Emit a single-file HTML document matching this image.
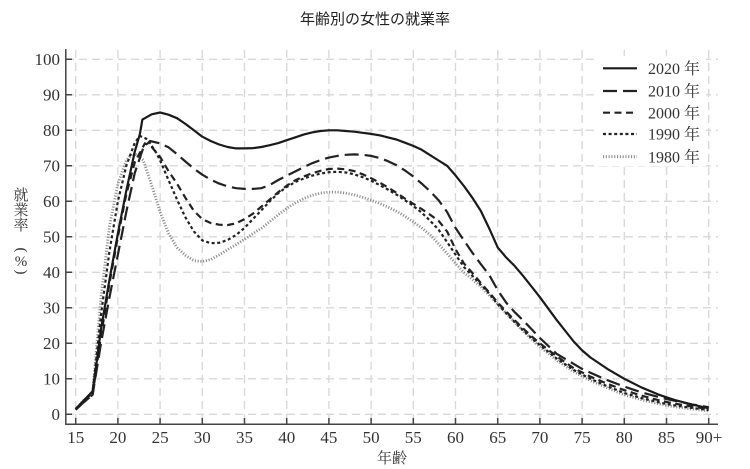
<!DOCTYPE html>
<html><head><meta charset="utf-8"><style>
html,body{margin:0;padding:0;background:#fff;}
svg{display:block;}
</style></head><body>
<svg width="750" height="469" viewBox="0 0 750 469" xmlns="http://www.w3.org/2000/svg">
<rect width="750" height="469" fill="#fff"/>
<text x="375" y="24" text-anchor="middle" font-family="'Liberation Sans','Noto Sans CJK JP',sans-serif" font-size="15" fill="#222">年齢別の女性の就業率</text>
<g stroke="#d8d8d8" stroke-width="1.4" stroke-dasharray="8 5" fill="none">
<path d="M66 59.3H718M66 94.8H718M66 130.3H718M66 165.8H718M66 201.3H718M66 236.8H718M66 272.3H718M66 307.8H718M66 343.3H718M66 378.8H718M66 414.3H718"/>
<path d="M75.7 50V424M117.9 50V424M160.1 50V424M202.3 50V424M244.5 50V424M286.7 50V424M328.9 50V424M371.1 50V424M413.3 50V424M455.5 50V424M497.7 50V424M539.9 50V424M582.1 50V424M624.3 50V424M666.5 50V424M708.7 50V424"/>
</g>
<g stroke="#444" stroke-width="1.5" fill="none">
<path d="M65.8 49V424.3H718"/>
<path d="M66 59.3h6M66 94.8h6M66 130.3h6M66 165.8h6M66 201.3h6M66 236.8h6M66 272.3h6M66 307.8h6M66 343.3h6M66 378.8h6M66 414.3h6"/>
<path d="M75.7 424v-6M117.9 424v-6M160.1 424v-6M202.3 424v-6M244.5 424v-6M286.7 424v-6M328.9 424v-6M371.1 424v-6M413.3 424v-6M455.5 424v-6M497.7 424v-6M539.9 424v-6M582.1 424v-6M624.3 424v-6M666.5 424v-6M708.7 424v-6"/>
</g>
<g font-family="'Liberation Serif',serif" font-size="17" fill="#333" text-anchor="end">
<text x="60" y="65">100</text><text x="60" y="100.5">90</text><text x="60" y="136">80</text><text x="60" y="171.5">70</text><text x="60" y="207">60</text><text x="60" y="242.5">50</text><text x="60" y="278">40</text><text x="60" y="313.5">30</text><text x="60" y="349">20</text><text x="60" y="384.5">10</text><text x="60" y="420">0</text>
</g>
<g font-family="'Liberation Serif',serif" font-size="17" fill="#333" text-anchor="middle">
<text x="75.7" y="443">15</text><text x="117.9" y="443">20</text><text x="160.1" y="443">25</text><text x="202.3" y="443">30</text><text x="244.5" y="443">35</text><text x="286.7" y="443">40</text><text x="328.9" y="443">45</text><text x="371.1" y="443">50</text><text x="413.3" y="443">55</text><text x="455.5" y="443">60</text><text x="497.7" y="443">65</text><text x="539.9" y="443">70</text><text x="582.1" y="443">75</text><text x="624.3" y="443">80</text><text x="666.5" y="443">85</text><text x="709" y="443">90+</text>
</g>
<text x="392" y="463" text-anchor="middle" font-family="'Liberation Serif','Noto Serif CJK SC',serif" font-size="15" fill="#333">年齢</text>
<g font-family="'Liberation Serif','Noto Serif CJK SC',serif" font-size="15" fill="#333" text-anchor="middle">
<text x="21" y="200">就</text><text x="21" y="215">業</text><text x="21" y="230">率</text>
<text x="21" y="266" font-family="'Liberation Serif',serif" font-size="15">%</text>
<text transform="translate(21 250) rotate(90)" x="0" y="4" font-size="15">(</text>
<text transform="translate(21 272) rotate(90)" x="0" y="4" font-size="15">)</text>
</g>
<g fill="none" stroke-linejoin="round">
<polyline stroke="#8a8a8a" stroke-width="2.8" stroke-dasharray="1.1 1.7" points="75.7,409.0 84.1,400.1 92.6,393.0 101.0,297.1 109.5,226.2 117.9,183.6 126.3,160.5 132.6,153.4 137.3,155.2 143.2,160.1 151.7,185.3 160.1,212.0 168.5,233.3 177.0,247.5 185.4,255.3 193.9,260.6 202.3,261.6 210.7,259.5 219.2,254.9 227.6,249.6 236.1,244.6 244.5,239.3 252.9,233.6 261.4,228.3 269.8,221.6 278.3,214.8 286.7,208.4 295.1,203.1 303.6,198.5 312.0,195.3 320.5,193.1 328.9,192.1 337.3,192.1 345.8,193.1 354.2,194.9 362.7,197.4 371.1,200.2 379.5,203.4 388.0,207.0 396.4,211.2 404.9,216.2 413.3,221.9 421.7,227.9 430.2,235.0 438.6,243.9 447.1,253.5 455.5,263.4 463.9,272.3 472.4,279.4 480.8,286.5 489.3,295.4 497.7,304.3 506.1,313.1 514.6,322.0 523.0,330.9 531.5,339.0 539.9,346.9 556.8,360.3 573.7,371.7 582.1,376.3 590.5,380.6 607.4,388.0 624.3,394.8 641.2,399.7 658.1,403.7 666.5,405.4 674.9,406.8 691.8,409.0 708.7,410.8"/>
<polyline stroke="#222" stroke-width="2.2" stroke-dasharray="3 2.6" points="75.7,409.0 84.1,400.1 92.6,393.0 101.0,314.9 109.5,251.0 117.9,201.3 126.3,165.8 134.8,142.7 139.9,136.0 147.4,139.2 156.7,153.4 160.1,160.5 168.5,180.0 177.0,199.5 185.4,217.3 193.9,231.5 202.3,240.4 210.7,243.2 219.2,242.8 227.6,240.0 236.1,235.0 244.5,227.9 252.9,219.1 261.4,210.2 269.8,201.3 278.3,193.1 286.7,187.1 295.1,182.1 303.6,178.6 312.0,175.7 320.5,173.6 328.9,172.2 337.3,171.8 345.8,172.5 354.2,174.3 362.7,177.2 371.1,180.7 379.5,185.0 388.0,189.6 396.4,194.6 404.9,200.2 413.3,205.9 421.7,212.7 430.2,220.8 438.6,229.7 447.1,242.1 455.5,254.6 463.9,267.0 472.4,275.8 480.8,284.7 489.3,293.6 497.7,304.3 506.1,313.1 514.6,322.0 523.0,330.2 531.5,338.0 539.9,345.1 556.8,358.6 573.7,370.0 582.1,374.5 590.5,378.8 607.4,386.3 624.3,393.0 641.2,398.0 658.1,402.2 666.5,404.0 674.9,405.4 691.8,407.9 708.7,410.0"/>
<polyline stroke="#222" stroke-width="2.2" stroke-dasharray="7 4.5" points="75.7,409.7 84.1,401.9 92.6,394.8 101.0,336.2 109.5,283.0 117.9,236.8 126.3,194.2 134.8,162.2 144.9,143.4 151.7,147.0 160.1,156.9 168.5,171.1 177.0,183.6 185.4,197.8 193.9,210.9 202.3,219.1 210.7,223.0 219.2,224.7 227.6,225.1 236.1,223.3 244.5,219.1 252.9,213.7 261.4,206.6 269.8,199.5 278.3,192.1 286.7,185.7 295.1,180.4 303.6,176.5 312.0,173.3 320.5,170.8 328.9,169.0 337.3,168.6 345.8,169.3 354.2,171.1 362.7,174.3 371.1,178.2 379.5,182.5 388.0,187.4 396.4,192.8 404.9,198.5 413.3,203.8 421.7,209.1 430.2,214.8 438.6,220.8 447.1,231.5 455.5,249.2 463.9,263.4 472.4,273.0 480.8,283.0 489.3,292.5 497.7,302.5 506.1,311.4 514.6,320.2 523.0,328.4 531.5,336.2 539.9,343.3 556.8,356.4 573.7,368.2 582.1,372.4 590.5,376.7 607.4,383.8 624.3,390.2 641.2,395.5 658.1,400.1 666.5,401.9 674.9,403.6 691.8,406.5 708.7,409.0"/>
<polyline stroke="#222" stroke-width="2.2" stroke-dasharray="14 6" points="75.7,409.7 84.1,401.9 92.6,394.8 101.0,343.3 109.5,297.2 117.9,254.6 126.3,211.9 134.8,172.9 143.2,148.1 150.0,141.0 160.1,143.4 168.5,147.3 177.0,154.1 185.4,161.5 193.9,168.6 202.3,174.7 210.7,179.6 219.2,183.6 227.6,186.4 236.1,188.2 244.5,188.9 252.9,188.9 261.4,188.2 269.8,185.0 278.3,180.0 286.7,175.7 295.1,171.5 303.6,167.2 312.0,163.3 320.5,160.1 328.9,157.6 337.3,155.9 345.8,154.8 354.2,154.4 362.7,154.8 371.1,155.9 379.5,158.0 388.0,161.2 396.4,165.1 404.9,170.4 413.3,176.5 421.7,183.6 430.2,191.4 438.6,200.2 447.1,212.0 455.5,227.9 463.9,240.4 472.4,252.8 480.8,264.1 489.3,275.1 497.7,290.1 506.1,302.5 514.6,312.1 523.0,320.2 531.5,329.1 539.9,338.0 556.8,353.9 573.7,363.9 582.1,368.9 590.5,372.8 607.4,380.2 624.3,386.6 641.2,392.3 658.1,396.9 666.5,399.0 674.9,400.8 691.8,404.4 708.7,407.2"/>
<polyline stroke="#1a1a1a" stroke-width="2.2" points="75.7,409.0 84.1,400.1 92.6,391.2 96.8,361.1 101.0,329.1 109.5,279.4 117.9,233.3 126.3,190.7 134.8,151.6 139.9,133.9 142.4,119.6 151.7,114.3 160.1,112.5 168.5,114.7 177.0,118.2 185.4,123.9 193.9,130.3 202.3,136.7 210.7,141.0 219.2,144.5 227.6,147.0 236.1,148.4 244.5,148.4 252.9,148.1 261.4,147.0 269.8,145.2 278.3,143.1 286.7,140.2 295.1,137.4 303.6,134.6 312.0,132.4 320.5,131.0 328.9,130.3 337.3,130.3 345.8,131.0 354.2,131.7 362.7,132.8 371.1,133.9 379.5,135.3 388.0,137.4 396.4,139.5 404.9,142.7 413.3,145.9 421.7,149.8 430.2,155.2 438.6,160.5 447.1,165.8 455.5,175.4 463.9,186.0 472.4,197.8 480.8,210.9 489.3,228.6 497.7,247.4 506.1,257.4 514.6,265.9 523.0,275.8 531.5,286.5 539.9,297.2 556.8,320.2 573.7,341.5 582.1,350.4 590.5,357.5 607.4,368.9 624.3,378.8 641.2,387.3 658.1,394.4 666.5,397.3 674.9,400.1 691.8,404.4 708.7,408.3"/>
</g>
<rect x="596" y="56" width="110" height="110" fill="#fff"/>
<g fill="none">
<line x1="603" y1="68.3" x2="637" y2="68.3" stroke="#1a1a1a" stroke-width="2.2"/>
<line x1="603" y1="91" x2="637" y2="91" stroke="#222" stroke-width="2.2" stroke-dasharray="14 6"/>
<line x1="603" y1="112.7" x2="637" y2="112.7" stroke="#222" stroke-width="2.2" stroke-dasharray="7 4.5"/>
<line x1="603" y1="134" x2="637" y2="134" stroke="#222" stroke-width="2.2" stroke-dasharray="3 2.6"/>
<line x1="603" y1="156.7" x2="637" y2="156.7" stroke="#8a8a8a" stroke-width="2.8" stroke-dasharray="1.1 1.7"/>
</g>
<g font-family="'Liberation Serif','Noto Serif CJK SC',serif" font-size="16" fill="#333">
<text x="648" y="74">2020 年</text>
<text x="648" y="96.7">2010 年</text>
<text x="648" y="118.4">2000 年</text>
<text x="648" y="139.7">1990 年</text>
<text x="648" y="162.4">1980 年</text>
</g>
</svg>
</body></html>
